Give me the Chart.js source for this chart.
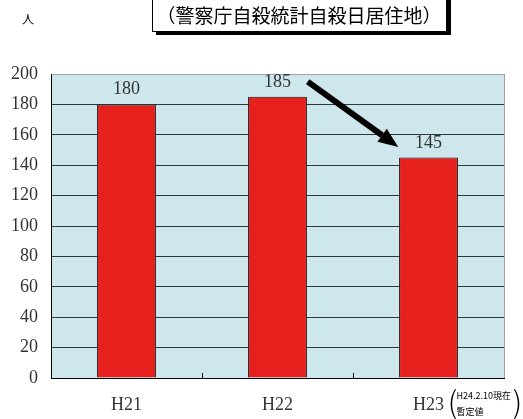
<!DOCTYPE html>
<html><head><meta charset="utf-8">
<script src="https://cdn.jsdelivr.net/npm/chart.js@4/dist/chart.umd.min.js"></script>
<style>html,body{margin:0;padding:0;background:#fff}#w{width:523px;height:419px}</style>
</head><body><div id="w"><canvas id="c"></canvas></div>
<script>
const categories = ['H21', 'H22', 'H23'];
const values = [180, 185, 145];
const yTicks = [0, 20, 40, 60, 80, 100, 120, 140, 160, 180, 200];
const titleText = '（警察庁自殺統計自殺日居住地）';
const unitText = '人';
const noteLine1 = 'H24.2.10現在';
const noteLine2 = '暫定値';

const serif = '"Liberation Serif", "DejaVu Serif", serif';
const cjk = '"Noto Sans CJK JP", "Noto Sans", sans-serif';

const deco = {
  id: 'deco',
  beforeDraw(chart) {
    const {ctx, chartArea: a} = chart;
    ctx.save();
    ctx.fillStyle = '#cde7ed';
    ctx.fillRect(a.left, a.top, a.right - a.left, a.bottom - a.top);
    ctx.restore();
  },
  afterDatasetsDraw(chart) {
    const {ctx, chartArea: a, scales: {x, y}} = chart;
    ctx.save();
    ctx.strokeStyle = '#a0a0a0';
    ctx.lineWidth = 1;
    ctx.beginPath();
    ctx.moveTo(a.right + 0.5, a.top);
    ctx.lineTo(a.right + 0.5, a.bottom);
    ctx.stroke();
    ctx.strokeStyle = '#000';
    ctx.beginPath();
    ctx.moveTo(a.left, Math.round(a.bottom) + 0.5);
    ctx.lineTo(a.right + 1, Math.round(a.bottom) + 0.5);
    ctx.stroke();
    for (let i = 1; i < categories.length; i++) {
      const px = Math.round((x.getPixelForValue(i - 1) + x.getPixelForValue(i)) / 2) + 0.5;
      ctx.beginPath();
      ctx.moveTo(px, a.bottom);
      ctx.lineTo(px, a.bottom - 5);
      ctx.stroke();
    }
    ctx.fillStyle = '#333';
    ctx.font = '18px ' + serif;
    ctx.textAlign = 'center';
    ctx.textBaseline = 'alphabetic';
    const meta = chart.getDatasetMeta(0);
    meta.data.forEach((bar, i) => {
      ctx.fillText(String(values[i]), bar.x, bar.y - 10);
    });
    const x0 = x.getPixelForValue(1.2), y0 = y.getPixelForValue(195);
    const x1 = x.getPixelForValue(1.8), y1 = y.getPixelForValue(152);
    const ang = Math.atan2(y1 - y0, x1 - x0);
    const headLen = 20, headW = 8;
    const bx = x1 - headLen * Math.cos(ang), by = y1 - headLen * Math.sin(ang);
    ctx.strokeStyle = '#000';
    ctx.lineWidth = 6;
    ctx.beginPath();
    ctx.moveTo(x0, y0);
    ctx.lineTo(bx, by);
    ctx.stroke();
    ctx.fillStyle = '#000';
    ctx.beginPath();
    ctx.moveTo(x1, y1);
    ctx.lineTo(bx + headW * Math.sin(ang), by - headW * Math.cos(ang));
    ctx.lineTo(bx - headW * Math.sin(ang), by + headW * Math.cos(ang));
    ctx.closePath();
    ctx.fill();
    ctx.restore();
  },
  afterDraw(chart) {
    const {ctx, scales: {x}} = chart;
    ctx.save();
    ctx.fillStyle = '#000';
    ctx.fillRect(156, -2, 295, 37);
    ctx.fillStyle = '#fff';
    ctx.fillRect(152, -2, 295, 34);
    ctx.strokeStyle = '#000';
    ctx.lineWidth = 1;
    ctx.strokeRect(152.5, -2.5, 294, 34);
    ctx.fillStyle = '#000';
    ctx.font = '19px ' + cjk;
    ctx.textAlign = 'center';
    ctx.textBaseline = 'middle';
    ctx.fillText(titleText, 299, 16);
    ctx.font = '12px ' + cjk;
    ctx.fillText(unitText, 28, 19);
    const cx = x.getPixelForValue(2);
    ctx.font = '200 30px ' + cjk;
    ctx.textAlign = 'center';
    ctx.fillText('(', cx + 24, 402);
    ctx.fillText(')', cx + 89, 402);
    ctx.font = '9px ' + cjk;
    ctx.textAlign = 'left';
    ctx.fillText(noteLine1, cx + 28, 396);
    ctx.fillText(noteLine2, cx + 28, 412);
    ctx.restore();
  }
};

new Chart(document.getElementById('c'), {
  type: 'bar',
  data: {
    labels: categories,
    datasets: [{
      data: values,
      backgroundColor: '#e6201c',
      borderColor: '#1a1a1a',
      borderWidth: 1,
      barPercentage: 0.78,
      categoryPercentage: 0.5
    }]
  },
  options: {
    responsive: true,
    maintainAspectRatio: false,
    animation: false,
    devicePixelRatio: 1,
    layout: {padding: {left: 0, right: 19, top: 74, bottom: 0}},
    plugins: {legend: {display: false}, tooltip: {enabled: false}, title: {display: false}},
    scales: {
      x: {
        grid: {display: false, drawTicks: false},
        border: {display: false},
        ticks: {color: '#333', font: {family: serif, size: 18}, padding: 16},
        afterFit(s) { s.height = 41; }
      },
      y: {
        min: 0, max: 200,
        afterBuildTicks(s) { s.ticks = yTicks.map(v => ({value: v})); },
        grid: {
          color: c => c.tick && c.tick.value === 200 ? '#a0a0a0' : (c.tick && c.tick.value === 0 ? '#000' : '#2d3a3c'),
          lineWidth: 1,
          drawTicks: false
        },
        border: {display: true, color: '#000', width: 1},
        ticks: {color: '#333', font: {family: serif, size: 18}, padding: 13},
        afterFit(s) { s.width = 51; }
      }
    }
  },
  plugins: [deco]
});
</script>
</body></html>
